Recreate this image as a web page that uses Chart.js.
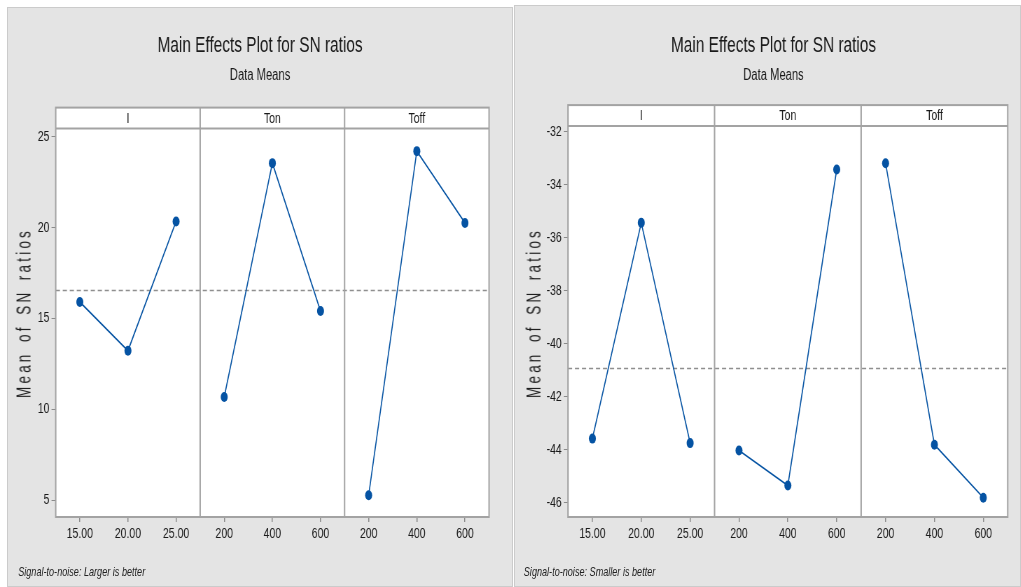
<!DOCTYPE html>
<html>
<head>
<meta charset="utf-8">
<script src="https://cdn.jsdelivr.net/npm/chart.js@4.4.1/dist/chart.umd.min.js"></script>
<style>
  body { margin: 0; background: #fff; width: 1021px; height: 587px; overflow: hidden; position: relative; }
  .panel { position: absolute; background: #e4e4e4; box-shadow: inset 0 0 0 1px #cbcbcb; overflow: hidden; }
  .squeeze { position: absolute; left: 0; top: 0; transform: scaleX(0.7); transform-origin: 0 0; }
  .squeeze canvas { position: absolute; left: 0; top: 0; }
  .note { position: absolute; font: italic 13px "Liberation Sans", Arial, sans-serif; line-height: 16px; color: #222; white-space: nowrap; }
  .ylab { position: absolute; font: 21px "Liberation Sans", Arial, sans-serif; color: #1a1a1a; letter-spacing: 5px; word-spacing: 4px; white-space: nowrap; line-height: 22px; }
</style>
</head>
<body>
<div class="panel" style="left:7px;top:7px;width:506px;height:580px">
  <div class="squeeze" style="width:723px;height:580px">
    <canvas id="larger" width="723" height="580"></canvas>
    <div class="note" style="left:16px;top:557px">Signal-to-noise: Larger is better</div>
  </div>
  <div class="ylab" data-cx="16.5" data-cy="306">Mean of SN ratios</div>
</div>
<div class="panel" style="left:514px;top:5px;width:507px;height:582px">
  <div class="squeeze" style="width:724px;height:582px">
    <canvas id="smaller" width="724" height="582"></canvas>
    <div class="note" style="left:14px;top:559px">Signal-to-noise: Smaller is better</div>
  </div>
  <div class="ylab" data-cx="19.5" data-cy="308">Mean of SN ratios</div>
</div>
<script>
'use strict';

var factorNames = ['I', 'Ton', 'Toff'];
var levelsI = ['15.00', '20.00', '25.00'];
var levelsTon = ['200', '400', '600'];
var levelsToff = ['200', '400', '600'];

// left plot: larger is better
var largerI = [15.9, 13.22, 20.33];
var largerTon = [10.67, 23.54, 15.4];
var largerToff = [5.27, 24.2, 20.25];
var largerTicks = [5, 10, 15, 20, 25];

// right plot: smaller is better
var smallerI = [-43.58, -35.43, -43.75];
var smallerTon = [-44.03, -45.35, -33.42];
var smallerToff = [-33.18, -43.81, -45.81];
var smallerTicks = [-46, -44, -42, -40, -38, -36, -34, -32];

var blue = '#0553a3';
var frameColor = '#a3a3a3';

Chart.defaults.font.family = '"Liberation Sans", Arial, sans-serif';
Chart.defaults.color = '#1a1a1a';

// white plot area, header strip with factor names, panel lines, grand mean
var facetPlugin = {
  id: 'facets',
  beforeDraw: function (chart) {
    var a = chart.chartArea, ctx = chart.ctx;
    ctx.save();
    ctx.fillStyle = '#fff';
    ctx.fillRect(a.left, a.top - 21, a.right - a.left, a.bottom - a.top + 21);
    ctx.restore();
  },
  beforeDatasetsDraw: function (chart) {
    var a = chart.chartArea, ctx = chart.ctx;
    var y = chart.scales.y.getPixelForValue(chart.options.plugins.facets.mean);
    ctx.save();
    ctx.strokeStyle = '#8f8f8f';
    ctx.lineWidth = 1.5;
    ctx.setLineDash([6, 4]);
    ctx.beginPath();
    ctx.moveTo(a.left, y);
    ctx.lineTo(a.right, y);
    ctx.stroke();
    ctx.restore();
  },
  afterDatasetsDraw: function (chart) {
    var a = chart.chartArea, ctx = chart.ctx;
    var w = (a.right - a.left) / 3;
    var top = a.top - 21;
    ctx.save();
    ctx.strokeStyle = frameColor;
    ctx.lineWidth = 2;
    ctx.strokeRect(a.left, top, a.right - a.left, a.bottom - top);
    ctx.beginPath();
    ctx.moveTo(a.left, a.top);
    ctx.lineTo(a.right, a.top);
    for (var k = 1; k < 3; k++) {
      ctx.moveTo(a.left + w * k, top);
      ctx.lineTo(a.left + w * k, a.bottom);
    }
    ctx.stroke();
    ctx.fillStyle = '#1a1a1a';
    ctx.font = '15px "Liberation Sans", Arial, sans-serif';
    ctx.textAlign = 'center';
    ctx.textBaseline = 'middle';
    factorNames.forEach(function (f, k) {
      ctx.fillText(f, a.left + w * (k + 0.5), top + 11);
    });
    ctx.restore();
  }
};

function makeChart(id, groups, ticks, yMin, yMax, pad, yWidth, titlePad, subPad) {
  var labels = levelsI.concat(levelsTon, levelsToff);
  var all = [];
  var datasets = groups.map(function (vals, g) {
    var data = labels.map(function () { return null; });
    vals.forEach(function (v, i) {
      data[g * 3 + i] = v;
      all.push(v);
    });
    return {
      data: data,
      borderColor: blue,
      backgroundColor: blue,
      borderWidth: 1.6,
      pointRadius: 5,
      pointBorderWidth: 0,
      spanGaps: false
    };
  });
  var mean = all.reduce(function (s, v) { return s + v; }, 0) / all.length;

  return new Chart(document.getElementById(id), {
    type: 'line',
    data: { labels: labels, datasets: datasets },
    plugins: [facetPlugin],
    options: {
      responsive: false,
      animation: false,
      layout: { padding: pad },
      plugins: {
        legend: { display: false },
        tooltip: { enabled: false },
        facets: { mean: mean },
        title: {
          display: true,
          text: 'Main Effects Plot for SN ratios',
          font: { size: 22, weight: 'normal' },
          color: '#1a1a1a',
          padding: titlePad
        },
        subtitle: {
          display: true,
          text: 'Data Means',
          font: { size: 16, weight: 'normal' },
          color: '#1a1a1a',
          padding: subPad
        }
      },
      scales: {
        x: {
          type: 'category',
          offset: true,
          border: { display: false },
          grid: { drawOnChartArea: false, tickLength: 5, color: '#8a8a8a', lineWidth: 1.5 },
          ticks: { font: { size: 15 }, padding: 3, maxRotation: 0, autoSkip: false },
          afterFit: function (s) { s.height = 40; }
        },
        y: {
          min: yMin,
          max: yMax,
          border: { display: false },
          grid: { drawOnChartArea: false, tickLength: 6, color: '#8a8a8a', lineWidth: 1 },
          ticks: { font: { size: 15 }, padding: 3 },
          afterBuildTicks: function (s) {
            s.ticks = ticks.map(function (v) { return { value: v }; });
          },
          afterFit: function (s) { s.width = yWidth; }
        }
      }
    }
  });
}

makeChart('larger', [largerI, largerTon, largerToff], largerTicks, 4.07, 25.44,
  { left: 34.4, right: 34.4, top: 0, bottom: 30 }, 35.2,
  { top: 26, bottom: 7 }, { top: 0, bottom: 43 });

makeChart('smaller', [smallerI, smallerTon, smallerToff], smallerTicks, -46.54, -31.78,
  { left: 36.1, right: 18.7, top: 0, bottom: 30 }, 41,
  { top: 28, bottom: 7 }, { top: 0, bottom: 40.5 });

// rotated y-axis labels, stretched to the same length as in the original
document.querySelectorAll('.ylab').forEach(function (el) {
  var w = el.offsetWidth, h = el.offsetHeight;
  var cx = parseFloat(el.dataset.cx), cy = parseFloat(el.dataset.cy);
  el.style.left = (cx - w / 2) + 'px';
  el.style.top = (cy - h / 2) + 'px';
  el.style.transform = 'rotate(-90deg) scaleX(' + (170 / w) + ')';
});
</script>
</body>
</html>
